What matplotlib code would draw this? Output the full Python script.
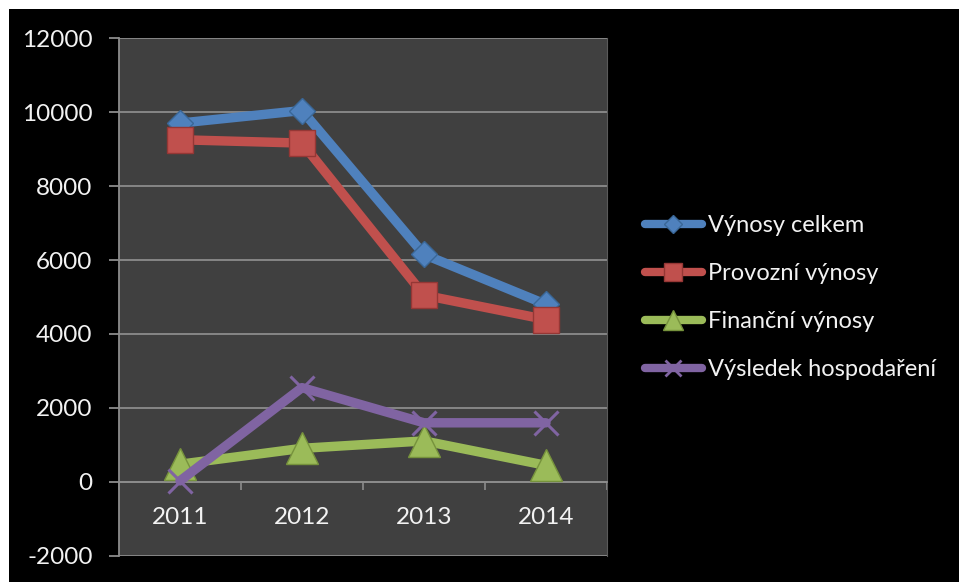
import matplotlib
matplotlib.use("Agg")
import matplotlib.pyplot as plt
from matplotlib.lines import Line2D
from matplotlib.patches import Rectangle

plt.rcParams['font.family'] = ['Lato', 'DejaVu Sans']

# Data
years = ["2011", "2012", "2013", "2014"]
vynosy_celkem = [9700, 10040, 6150, 4800]
provozni_vynosy = [9250, 9160, 5050, 4390]
financni_vynosy = [480, 910, 1110, 450]
vysledek_hospodareni = [30, 2550, 1600, 1600]
series_names = ["Výnosy celkem", "Provozní výnosy", "Finanční výnosy", "Výsledek hospodaření"]
y_ticks = [-2000, 0, 2000, 4000, 6000, 8000, 10000, 12000]

# Styling
colors = ["#4F81BD", "#C0504D", "#9BBB59", "#8064A2"]
edge_colors = ["#3A6797", "#953735", "#76923C", "#5F497A"]
markers = ["D", "s", "^", "x"]
marker_sizes = [13, 19, 23, 17]
legend_marker_sizes = [9, 13, 15, 12]
plot_bg = "#404040"
grid_col = "#8C8C8C"
text_col = "#F2F2F2"

W, H = 959, 582
fig = plt.figure(figsize=(W / 100, H / 100), dpi=100, facecolor="white")

# black chart area with a thin white margin on the top and left
bg = fig.add_axes([0, 0, 1, 1], zorder=-10)
bg.set_axis_off()
bg.add_patch(Rectangle((9 / W, 0), 1 - 9 / W, 1 - 9 / H, transform=bg.transAxes,
                       facecolor="black", edgecolor="none"))

ax = fig.add_axes([119 / W, 26 / H, (607 - 119) / W, (556 - 38) / H], zorder=2)
ax.set_facecolor(plot_bg)

x = list(range(len(years)))
all_series = [vynosy_celkem, provozni_vynosy, financni_vynosy, vysledek_hospodareni]
for vals, c, ec, m, ms in zip(all_series, colors, edge_colors, markers, marker_sizes):
    if m == "x":
        ax.plot(x, vals, color=c, lw=6.8, solid_capstyle="round", solid_joinstyle="round",
                marker=m, markersize=ms, markeredgewidth=2.2, markeredgecolor=c,
                zorder=3)
    else:
        ax.plot(x, vals, color=c, lw=6.8, solid_capstyle="round", solid_joinstyle="round",
                marker=m, markersize=ms, markerfacecolor=c, markeredgecolor=ec,
                markeredgewidth=1.0, zorder=3)

ax.set_xlim(-0.5, len(years) - 0.5)
ax.set_ylim(-2000, 12000)
ax.set_yticks(y_ticks)
ax.set_yticklabels([str(v) for v in y_ticks])
ax.yaxis.grid(True, color=grid_col, lw=1.3)
ax.set_axisbelow(True)

# category axis sits on the zero line
ax.spines["bottom"].set_position(("data", 0))
ax.spines["bottom"].set_color(grid_col)
ax.spines["bottom"].set_linewidth(1.3)
ax.spines["left"].set_color(grid_col)
ax.spines["left"].set_linewidth(1.3)
ax.spines["right"].set_color("#5A5A5A")
ax.spines["top"].set_visible(False)

ax.set_xticks(x)
ax.set_xticklabels(years)
ax.set_xticks([i + 0.5 for i in range(-1, len(years))], minor=True)
ax.tick_params(axis="x", which="major", length=0, pad=18, labelsize=17.5, labelcolor=text_col)
ax.tick_params(axis="x", which="minor", length=6, width=1.2, color=grid_col, direction="out")
ax.tick_params(axis="y", which="major", length=7, width=1.3, color=grid_col, pad=12,
               labelsize=17.5, labelcolor=text_col)

handles = []
for c, ec, m, ms in zip(colors, edge_colors, markers, legend_marker_sizes):
    if m == "x":
        handles.append(Line2D([], [], color=c, lw=6, solid_capstyle="round", marker=m,
                              markersize=ms, markeredgewidth=2.0, markeredgecolor=c))
    else:
        handles.append(Line2D([], [], color=c, lw=6, solid_capstyle="round", marker=m,
                              markersize=ms, markerfacecolor=c, markeredgecolor=ec,
                              markeredgewidth=1.0))

leg = fig.legend(handles, series_names, loc="upper left",
                 bbox_to_anchor=(645 / W, 1 - 215 / H), frameon=False,
                 fontsize=17, handlelength=2.4, handletextpad=0.25,
                 labelspacing=1.15, borderpad=0, borderaxespad=0)
for t in leg.get_texts():
    t.set_color(text_col)

fig.savefig("out.png", dpi=100, facecolor=fig.get_facecolor())
